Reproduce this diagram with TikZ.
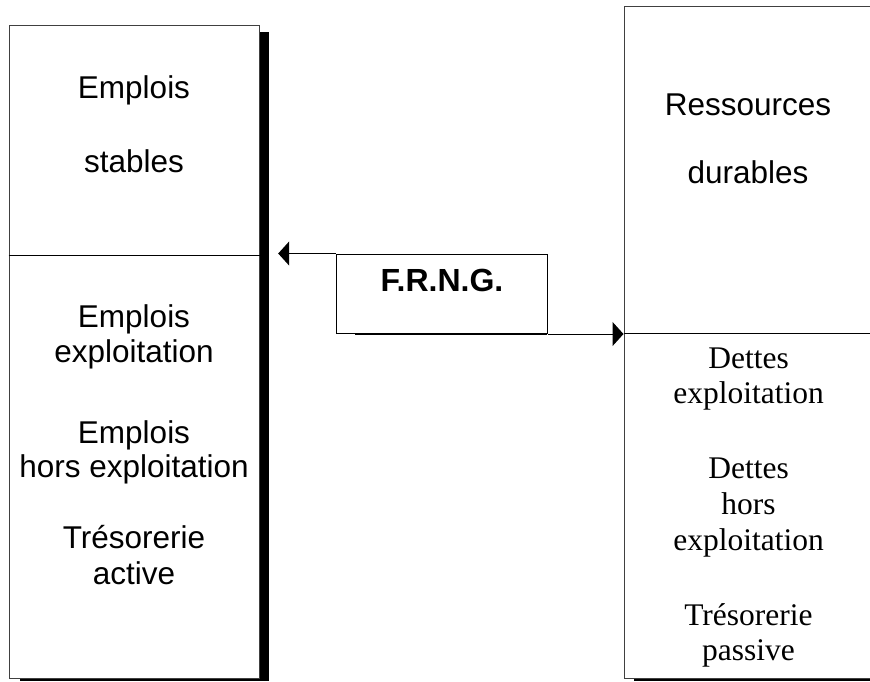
\documentclass[tikz,border=0pt]{standalone}
\usepackage{fontspec}
\setmainfont{Liberation Serif}
\newfontfamily\arialf{Liberation Sans}
\usetikzlibrary{arrows.meta}
\begin{document}
\begin{tikzpicture}[x=1pt,y=-1pt,
  frame/.style={draw=black!75, line width=1pt, fill=white, rectangle, inner sep=0pt},
  shadowbox/.style={fill=black, draw=none, rectangle, inner sep=0pt},
  sanstxt/.style={font=\arialf\fontsize{31.5}{34}\selectfont, anchor=base, inner sep=0pt},
  seriftxt/.style={font=\fontsize{31.5}{34}\selectfont, anchor=base, inner sep=0pt},
  arr/.style={-{Triangle[length=11pt,width=24pt]}, line width=1pt}
]
\useasboundingbox (0,0) rectangle (870,681);
\clip (0,0) rectangle (870,681);
% shadows
\node[shadowbox, minimum width=10pt, minimum height=649pt] (bar) at (264,356.5) {};
\node[shadowbox, minimum width=249pt, minimum height=3pt] (lshadow) at (144.5,679.5) {};
\node[shadowbox, minimum width=246pt, minimum height=3pt] (rshadow) at (757,679.5) {};
\node[shadowbox, minimum width=192pt, minimum height=1.5pt] (fshadow) at (451,334.5) {};
% frames
\node[frame, minimum width=250pt, minimum height=230pt] (lt) at (134,140) {};
\node[frame, minimum width=250pt, minimum height=423pt] (lb) at (134,466.5) {};
\node[frame, minimum width=256pt, minimum height=327pt] (rt) at (752,169.5) {};
\node[frame, minimum width=256pt, minimum height=345pt] (rb) at (752,505.5) {};
\draw[black, line width=1pt] (lt.south west) -- (lt.south east);
\draw[black, line width=1pt] (rt.south west) -- (rt.south east);
\node[frame, draw=black, minimum width=211pt, minimum height=79.5pt] (frng) at (441.5,293.75) {};
% texts
\node[sanstxt] (t1) at (134,98) {Emplois};
\node[sanstxt] (t2) at (134,172) {stables};
\node[sanstxt] (t3) at (748,115) {Ressources};
\node[sanstxt] (t4) at (748,183) {durables};
\node[sanstxt, font=\arialf\bfseries\fontsize{32}{34}\selectfont] (t5) at (442,291) {F.R.N.G.};
\node[sanstxt] (l1) at (134,327) {Emplois};
\node[sanstxt] (l2) at (134,362) {exploitation};
\node[sanstxt] (l3) at (134,443) {Emplois};
\node[sanstxt] (l4) at (134,477) {hors exploitation};
\node[sanstxt] (l5) at (134,548) {Trésorerie};
\node[sanstxt] (l6) at (134,584) {active};
\node[seriftxt] (r1) at (748.5,368) {Dettes};
\node[seriftxt] (r2) at (748.5,403) {exploitation};
\node[seriftxt] (r3) at (748.5,478) {Dettes};
\node[seriftxt] (r4) at (748.5,514) {hors};
\node[seriftxt] (r5) at (748.5,550) {exploitation};
\node[seriftxt] (r6) at (748.5,625) {Trésorerie};
\node[seriftxt] (r7) at (748.5,660) {passive};
% arrows
\draw[arr, shorten >=9pt] (frng.north west) -- (frng.north west -| bar.east);
\draw[arr] (frng.south east) -- (frng.south east -| rb.west);
\end{tikzpicture}
\end{document}
